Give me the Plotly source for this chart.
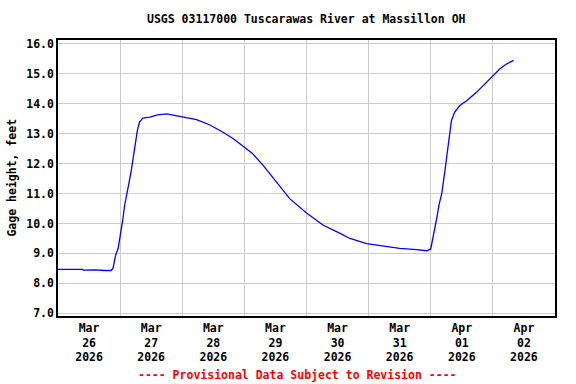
import plotly.graph_objects as go

times = [
    "2026-03-26 00:00", "2026-03-26 09:30", "2026-03-26 09:45", "2026-03-26 14:10",
    "2026-03-26 18:00", "2026-03-26 20:00", "2026-03-26 20:30", "2026-03-26 21:15",
    "2026-03-26 22:15", "2026-03-26 23:15", "2026-03-27 00:00", "2026-03-27 01:00",
    "2026-03-27 01:45", "2026-03-27 02:45", "2026-03-27 03:30", "2026-03-27 04:20",
    "2026-03-27 05:30", "2026-03-27 06:40", "2026-03-27 07:30", "2026-03-27 08:45",
    "2026-03-27 11:30", "2026-03-27 14:30", "2026-03-27 18:00", "2026-03-27 21:00",
    "2026-03-28 00:15", "2026-03-28 05:30", "2026-03-28 10:30", "2026-03-28 15:45",
    "2026-03-28 19:45", "2026-03-29 00:00", "2026-03-29 03:00", "2026-03-29 07:15",
    "2026-03-29 12:30", "2026-03-29 17:30", "2026-03-30 00:00", "2026-03-30 06:30",
    "2026-03-30 13:00", "2026-03-30 16:45", "2026-03-30 23:15", "2026-03-31 05:30",
    "2026-03-31 12:00", "2026-03-31 18:30", "2026-03-31 22:30", "2026-04-01 00:00",
    "2026-04-01 01:00", "2026-04-01 02:15", "2026-04-01 03:15", "2026-04-01 04:15",
    "2026-04-01 05:30", "2026-04-01 06:30", "2026-04-01 07:30", "2026-04-01 08:00",
    "2026-04-01 09:15", "2026-04-01 11:15", "2026-04-01 14:00", "2026-04-01 17:45",
    "2026-04-01 21:30", "2026-04-02 00:15", "2026-04-02 02:45", "2026-04-02 05:15",
    "2026-04-02 08:00",
]
gage_height = [
    8.47, 8.47, 8.44, 8.45,
    8.43, 8.42, 8.43, 8.50,
    8.94, 9.17, 9.55, 10.11,
    10.61, 11.00, 11.39, 11.78,
    12.44, 13.11, 13.39, 13.52,
    13.55, 13.63, 13.66, 13.61,
    13.57, 13.47, 13.30, 13.05,
    12.83, 12.55, 12.35, 11.94,
    11.39, 10.83, 10.35, 9.94,
    9.67, 9.50, 9.33, 9.24,
    9.17, 9.13, 9.09, 9.15,
    9.55, 10.15, 10.65, 11.00,
    11.78, 12.55, 13.11, 13.44,
    13.72, 13.94, 14.11, 14.39,
    14.72, 14.97, 15.17, 15.33,
    15.45,
]

title_text = "USGS 03117000 Tuscarawas River at Massillon OH"
y_title = "Gage height, feet"
footer_text = "---- Provisional Data Subject to Revision ----"

FONT = "DejaVu Sans Mono"
FS = 11.5

fig = go.Figure()
fig.add_trace(go.Scatter(
    x=times, y=gage_height, mode="lines",
    line=dict(color="#0000ff", width=1.3),
    hoverinfo="skip", showlegend=False,
))

fig.update_layout(
    width=576, height=384,
    margin=dict(l=58, r=21, t=40, b=68, autoexpand=False),
    paper_bgcolor="white", plot_bgcolor="white",
    font=dict(family=FONT, size=FS, color="black"),
    showlegend=False,
)

fig.update_xaxes(
    type="date",
    range=["2026-03-26 00:00", "2026-04-03 00:00"],
    tick0="2026-03-26", dtick=86400000,
    ticklabelmode="period",
    tickformat="%b<br>%d<br>%Y",
    tickfont=dict(family=FONT, size=FS, color="black", weight="bold"),
    showgrid=True, gridcolor="#cccccc", gridwidth=1,
    showline=True, linecolor="black", linewidth=1.5, mirror=True,
    ticks="", zeroline=False, automargin=False,
)
fig.update_yaxes(
    range=[6.91, 16.13],
    tick0=7, dtick=1, tickformat=".1f",
    tickfont=dict(family=FONT, size=FS, color="black", weight="bold"),
    showgrid=True, gridcolor="#cccccc", gridwidth=1,
    showline=True, linecolor="black", linewidth=1.5, mirror=True,
    ticks="", zeroline=False, automargin=False,
)

fig.add_annotation(
    text=title_text, xref="paper", yref="paper", x=0.5, y=1.0, yshift=21,
    xanchor="center", yanchor="middle", showarrow=False,
    font=dict(family=FONT, size=FS, color="black", weight="bold"),
)
fig.add_annotation(
    text=y_title, xref="paper", yref="paper", x=-0.0934, y=0.5,
    xanchor="center", yanchor="middle", showarrow=False, textangle=-90,
    font=dict(family=FONT, size=FS, color="black", weight="bold"),
)
fig.add_annotation(
    text=footer_text, xref="paper", yref="paper", x=0.4825, y=0, yshift=-59,
    xanchor="center", yanchor="middle", showarrow=False,
    font=dict(family=FONT, size=FS, color="red", weight="bold"),
)

fig.write_html("out.html", config={"displayModeBar": False},
               post_script="document.body.style.margin='0';")
